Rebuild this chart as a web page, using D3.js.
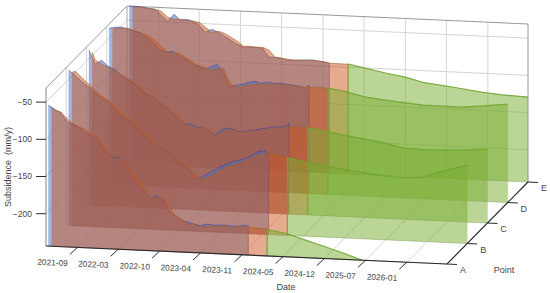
<!DOCTYPE html>
<html>
<head>
<meta charset="utf-8">
<script src="https://cdn.jsdelivr.net/npm/d3@7"></script>
<style>
    body { margin: 0; background: #fff; }
    text { font-family: "Liberation Sans", Arial, sans-serif; fill: #454545; }
</style>
</head>
<body>
<div id="chart"></div>
<script>
// Subsidence per point: observed, fitted and forecast curtains

const points = ["A", "B", "C", "D", "E"];
const zTicks = [-50, -100, -150, -200];
const tickLabels = ["2021-09", "2022-03", "2022-10", "2023-04", "2023-11", "2024-05", "2024-12", "2025-07", "2026-01"];
const tickDates = ["2021-09-01", "2022-03-16", "2022-10-01", "2023-04-16", "2023-11-01", "2024-05-16", "2024-12-01", "2025-06-16", "2026-01-01"];

const obsDates = ["2021-04-15", "2021-05-15", "2021-06-15", "2021-07-15", "2021-08-15", "2021-09-15", "2021-10-15", "2021-11-15", "2021-12-15",
    "2022-01-15", "2022-02-15", "2022-03-15", "2022-04-15", "2022-05-15", "2022-06-15", "2022-07-15", "2022-08-15", "2022-09-15", "2022-10-15", "2022-11-15", "2022-12-15",
    "2023-01-15", "2023-02-15", "2023-03-15", "2023-04-15", "2023-05-15", "2023-06-15", "2023-07-15", "2023-08-15", "2023-09-15", "2023-10-15", "2023-11-15", "2023-12-01"];
const fitDates = ["2021-05-01", "2021-05-15", "2021-06-15", "2021-07-15", "2021-08-15", "2021-09-15", "2021-10-15", "2021-11-15", "2021-12-15",
    "2022-01-15", "2022-02-15", "2022-03-15", "2022-04-15", "2022-05-15", "2022-06-15", "2022-07-15", "2022-08-15", "2022-09-15", "2022-10-15", "2022-11-15", "2022-12-15",
    "2023-01-15", "2023-02-15", "2023-03-15", "2023-04-15", "2023-05-15", "2023-06-15", "2023-07-15", "2023-08-15", "2023-09-15", "2023-10-15", "2023-11-15", "2023-12-01",
    "2024-01-15", "2024-03-01"];
const forecastDates = ["2024-03-01", "2024-06-01", "2024-09-01", "2024-12-01", "2025-03-01", "2025-06-01", "2025-09-01", "2025-12-01", "2026-03-01", "2026-07-13"];

const obsA = [-54, -59, -64, -75.7, -79.4, -83, -89.3, -94.3, -100.7, -115, -120, -119.6, -128.7, -143.1, -153.4, -163.7, -172.7, -169.7, -174.7, -189.1, -195.4, -201.7, -202.7, -205, -206.6, -204.2, -205.2, -204.8, -204.4, -205.4, -205, -203.3, -204.4];
const fitA = [-56.7, -60.3, -62.7, -71.7, -78.1, -81.7, -85.3, -91.6, -96.7, -108.3, -120, -122.3, -124.7, -136.4, -146.7, -158.3, -171.4, -172.4, -172, -182.4, -194.1, -199, -205.4, -205, -208.6, -206.9, -206.5, -206.1, -205.7, -208.1, -205, -206, -205.7, -206.5, -207.3];
const forecastA = [-208, -212.1, -219.8, -227.3, -234.9, -243.4];

const obsB = [-34.6, -40.9, -48.6, -54.9, -62.6, -68.9, -73.9, -81.6, -91.9, -95.6, -100.6, -109.6, -118.6, -127.6, -131.2, -136.2, -139.9, -150.2, -156.5, -160.2, -173.2, -170.2, -164.5, -160.1, -154.3, -151.2, -146.8, -145.1, -142.1, -137.6, -131.8, -131.5, -134];
const fitB = [-37.3, -35.5, -43.2, -50.9, -58.6, -66.2, -71.2, -77.6, -86.5, -94.3, -97.9, -105.6, -114.6, -122.2, -131.2, -134.9, -139.9, -146.2, -153.8, -158.9, -167.8, -172.9, -169.9, -165.5, -159.7, -155.2, -152.2, -149.1, -144.8, -140.3, -137.2, -134.2, -134, -135.4, -138.2];
const forecastB = [-138.9, -143.7, -148, -151.5, -154.4, -157.2, -158.9, -157.6, -149.2, -138.1];

const obsC = [-35.3, -53.7, -47.9, -55.6, -59.2, -66.9, -71.9, -76.9, -84.5, -90.9, -94.4, -100.8, -107.2, -113.5, -121.1, -128.8, -128.4, -132.1, -131.7, -136.7, -141.7, -133.3, -131.5, -133.8, -136.1, -134.4, -132.7, -131, -129.2, -127.5, -127.1, -125.4, -121.2];
const fitC = [-38, -48.3, -53.2, -57, -60.5, -65.6, -70.5, -75.5, -81.8, -89.5, -94.4, -99.5, -104.5, -112.2, -118.4, -126.1, -132.4, -133.4, -131.7, -135.3, -143, -137.3, -132.8, -135.1, -136.1, -135.7, -134, -132.3, -130.6, -128.8, -128.4, -126.8, -126.5, -126, -126.2];
const forecastC = [-126.1, -130.3, -134.6, -138.1, -141.7, -147.8, -148.8, -148.3, -147.2, -144.1];

const obsD = [-33.2, -31.5, -31.1, -33.4, -35.7, -38, -44.4, -50.7, -59.7, -62, -60.3, -65.3, -70.3, -75.3, -78.9, -82.6, -79.5, -75, -85.4, -105.2, -102.1, -100.4, -97.3, -95.6, -97.9, -96.2, -97.2, -96.8, -97.7, -98.7, -99.6, -101.9, -97.7];
const fitD = [-34.6, -32.9, -32.5, -32.1, -34.4, -38, -40.3, -45.3, -53, -60.7, -63, -62.6, -67.6, -72.6, -77.6, -79.9, -83.5, -81.8, -80, -98.5, -104.8, -103.1, -101.3, -99.6, -99.3, -98.9, -98.5, -98.1, -99, -98.7, -101, -100.6, -100.4, -99.9, -100.7];
const forecastD = [-100.6, -104.8, -110.4, -113.2, -115.5, -117.7, -117.9, -118.1, -115.6, -111.2];

const obsE = [-31.3, -30.9, -31.8, -32.8, -33.7, -41.4, -49.1, -39.3, -47, -45.3, -47.6, -52.6, -61.6, -57.2, -60.8, -65.8, -70.8, -75.8, -79.4, -79.1, -78.7, -79.6, -91.3, -91, -91.9, -94.2, -93.8, -93.4, -93, -92.6, -93.6, -94.6, -95.7];
const fitE = [-32.6, -32.2, -31.8, -32.8, -33.7, -36, -43.7, -46, -45.6, -46.6, -47.6, -48.6, -54.9, -61.2, -59.4, -61.8, -66.8, -71.7, -78.1, -77.7, -78.7, -78.3, -81.9, -91, -91.9, -92.8, -93.8, -93.4, -93, -92.6, -93.6, -94.6, -95.7, -95.8, -96];
const forecastE = [-95.9, -100.7, -105.7, -109.9, -116.2, -119, -122, -125.4, -127.7, -129.3];

const obsSeries = [obsA, obsB, obsC, obsD, obsE];
const fitSeries = [fitA, fitB, fitC, fitD, fitE];
const forecastSeries = [forecastA, forecastB, forecastC, forecastD, forecastE];

const width = 550, height = 293;
const parseDate = d3.timeParse("%Y-%m-%d");

let svg = d3.select("#chart").append("svg")
    .attr("width", width)
    .attr("height", height)
    .style("display", "block");

// the three box directions on the page are parallel, so this is a plain oblique view
let dateScale = d3.scaleTime()
    .domain([parseDate("2021-04-03"), parseDate("2026-07-13")])
    .range([0, 1]);
let pointScale = d3.scaleLinear().domain([0, 4]).range([0, 1]);
let zScale = d3.scaleLinear().domain([-243.4, -31]).range([0, 1]);

let px = function(u, v) { return 46 + 401 * u + 81 * v; };
let py = function(u, v, w) { return 246 + 18 * u - 82 * v - 158 * w; };

let path3d = function(corners, close) {
    return d3.line()
        .x(function(c) { return px(c[0], c[1]); })
        .y(function(c) { return py(c[0], c[1], c[2]); })(corners) + (close ? "Z" : "");
};

let line3d = function(corners, stroke, strokeWidth) {
    svg.append("path")
        .attr("d", path3d(corners, false))
        .attr("fill", "none")
        .attr("stroke", stroke)
        .attr("stroke-width", strokeWidth);
};

// grid on back wall, left wall and floor
const gridColor = "#d4d4d4";
tickDates.forEach(function(d) {
    let u = dateScale(parseDate(d));
    line3d([[u, 0, 0], [u, 1, 0], [u, 1, 1]], gridColor, 1);
});
zTicks.forEach(function(z) {
    let w = zScale(z);
    line3d([[0, 0, w], [0, 1, w], [1, 1, w]], gridColor, 1);
});
points.forEach(function(p, i) {
    let v = pointScale(i);
    line3d([[0, v, 1], [0, v, 0], [1, v, 0]], gridColor, 1);
});

// box outline
line3d([[0, 0, 0], [0, 0, 1], [0, 1, 1], [1, 1, 1], [1, 1, 0]], "#999", 1);
line3d([[0, 1, 1], [0, 1, 0]], "#bbb", 1);

// one translucent curtain standing on the floor, edged only where the reference edges it
let curtain = function(dateList, values, v, style) {
    let top = values.map(function(z, i) {
        return [dateScale(parseDate(dateList[i])), v, zScale(z)];
    });
    let left = [top[0][0], v, 0], right = [top[top.length - 1][0], v, 0];
    svg.append("path")
        .attr("d", path3d([left].concat(top, [right]), true))
        .attr("fill", style.fill)
        .attr("fill-opacity", 0.5)
        .attr("stroke", style.fill)
        .attr("stroke-opacity", 0.25)
        .attr("stroke-width", 0.6);
    let edge = (style.leftEdge ? [left] : []).concat(top, style.rightEdge ? [right] : []);
    svg.append("path")
        .attr("d", path3d(edge, false))
        .attr("fill", "none")
        .attr("stroke", style.stroke)
        .attr("stroke-width", style.strokeWidth)
        .attr("stroke-linejoin", "round");
};

const obsStyle = {fill: "rgb(60,110,195)", stroke: "rgba(75,55,150,0.65)", strokeWidth: 0.7, leftEdge: false, rightEdge: true};
const fitStyle = {fill: "rgb(205,85,30)", stroke: "rgba(150,105,50,0.7)", strokeWidth: 0.8, leftEdge: false, rightEdge: false};
const forecastStyle = {fill: "rgb(119,172,48)", stroke: "rgba(110,165,45,0.85)", strokeWidth: 1.2, leftEdge: true, rightEdge: false};

// painted back to front
d3.range(4, -1, -1).forEach(function(i) {
    let v = pointScale(i);
    curtain(obsDates, obsSeries[i], v, obsStyle);
    curtain(fitDates, fitSeries[i], v, fitStyle);
    curtain(forecastDates, forecastSeries[i], v, forecastStyle);
});

// floor edges and ticks
line3d([[0, 0, 0], [1, 0, 0], [1, 1, 0]], "#2a2a2a", 1.2);

tickDates.forEach(function(d, i) {
    let u = dateScale(parseDate(d));
    svg.append("line")
        .attr("x1", px(u, 0)).attr("y1", py(u, 0, 0))
        .attr("x2", px(u, 0) - 7.5).attr("y2", py(u, 0, 0) + 7)
        .attr("stroke", "#2a2a2a");
    svg.append("text")
        .attr("transform", "translate(" + (px(u, 0) - 25) + "," + (py(u, 0, 0) + 18) + ") rotate(2.6)")
        .style("text-anchor", "middle")
        .style("font-size", "8.3px")
        .text(tickLabels[i]);
});

points.forEach(function(p, i) {
    let v = pointScale(i);
    svg.append("line")
        .attr("x1", px(1, v)).attr("y1", py(1, v, 0))
        .attr("x2", px(1, v) + 10).attr("y2", py(1, v, 0) + 0.5)
        .attr("stroke", "#2a2a2a");
    svg.append("text")
        .attr("x", px(1, v) + 16)
        .attr("y", py(1, v, 0) + 9)
        .style("text-anchor", "middle")
        .style("font-size", "9px")
        .text(p);
});

zTicks.forEach(function(z) {
    let w = zScale(z);
    svg.append("line")
        .attr("x1", px(0, 0)).attr("y1", py(0, 0, w))
        .attr("x2", px(0, 0) - 10).attr("y2", py(0, 0, w))
        .attr("stroke", "#2a2a2a");
    svg.append("text")
        .attr("x", px(0, 0) - 14)
        .attr("y", py(0, 0, w))
        .attr("dy", ".35em")
        .style("text-anchor", "end")
        .style("font-size", "8.5px")
        .text(d3.format("d")(z).replace("-", "\u2212"));
});

// axis titles
svg.append("text")
    .attr("class", "axis-label")
    .attr("transform", "translate(11,167) rotate(-90)")
    .style("text-anchor", "middle")
    .style("font-size", "9px")
    .style("white-space", "pre")
    .text("Subsidence  (mm/y)");

svg.append("text")
    .attr("class", "axis-label")
    .attr("x", 286)
    .attr("y", 290)
    .style("text-anchor", "middle")
    .style("font-size", "9px")
    .text("Date");

svg.append("text")
    .attr("class", "axis-label")
    .attr("x", 504)
    .attr("y", 273)
    .style("text-anchor", "middle")
    .style("font-size", "9px")
    .text("Point");
</script>
</body>
</html>
